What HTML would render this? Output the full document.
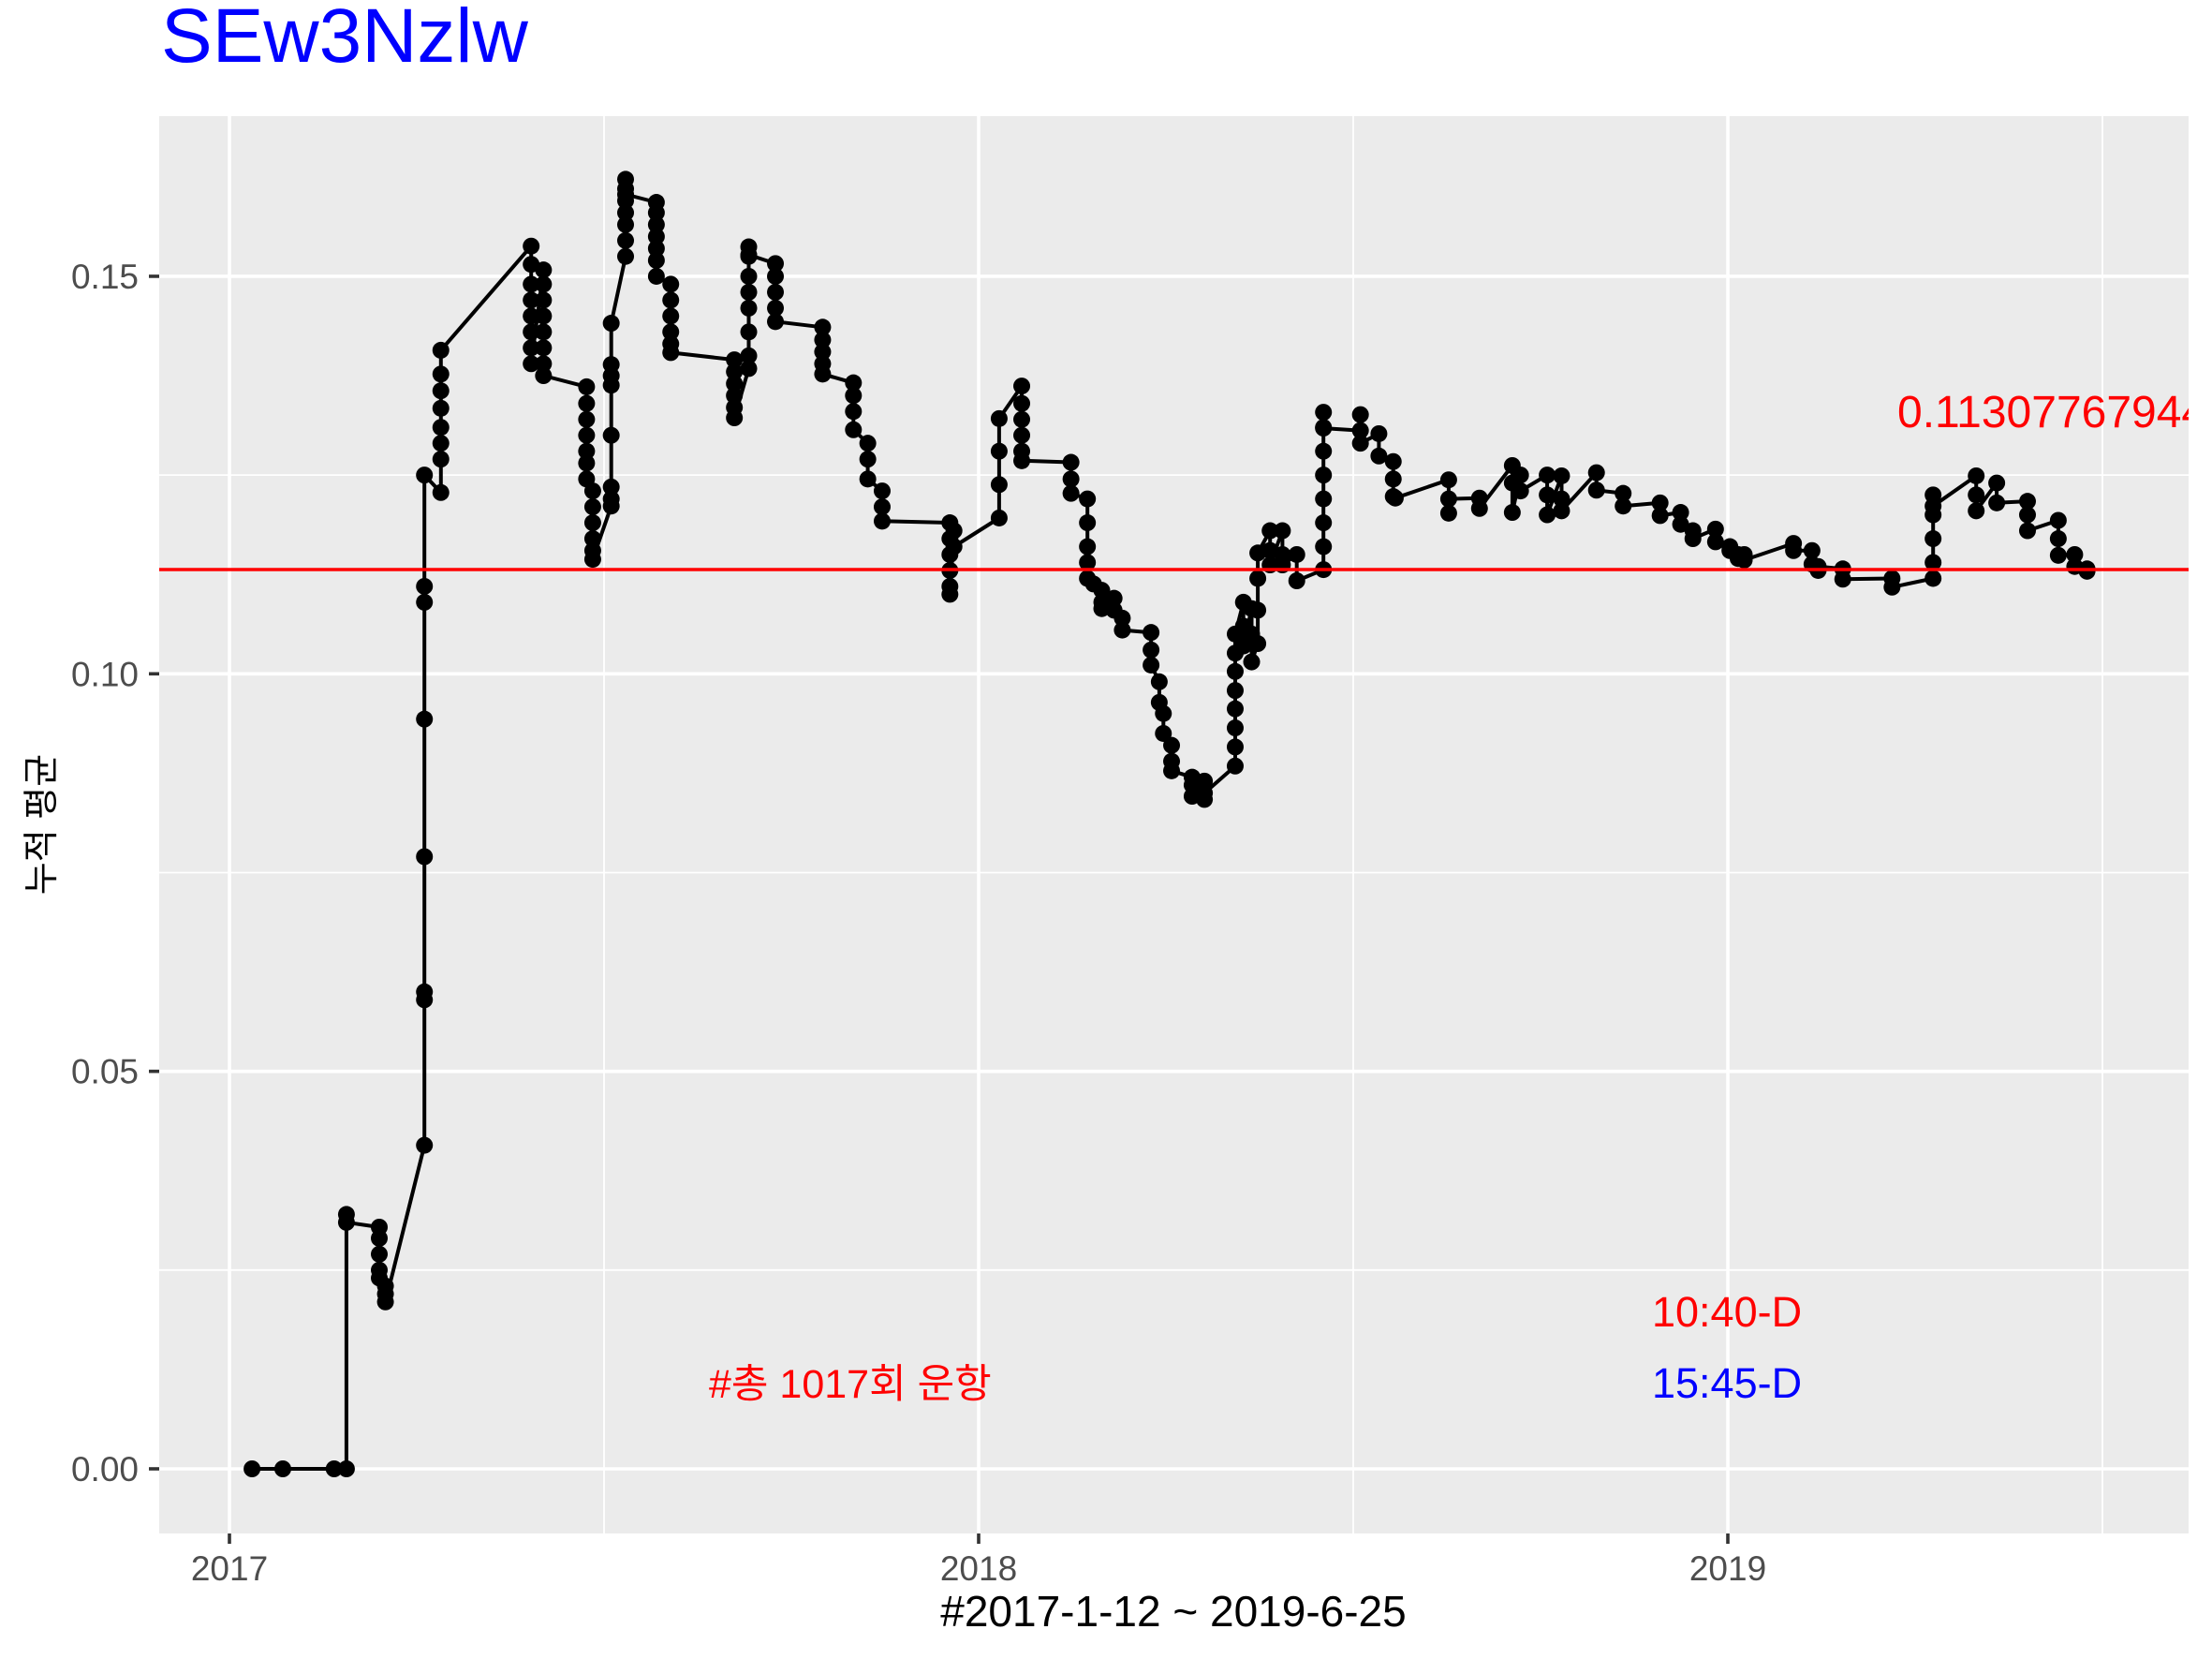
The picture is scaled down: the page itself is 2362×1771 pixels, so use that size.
<!DOCTYPE html>
<html><head><meta charset="utf-8"><style>
html,body{margin:0;padding:0;background:#fff;}
svg{display:block;}
text{font-family:"Liberation Sans","Noto Sans CJK KR",sans-serif;}
</style></head><body>
<svg id="chart" width="2362" height="1771" viewBox="0 0 2362 1771" xmlns="http://www.w3.org/2000/svg">
<text x="172" y="66" font-size="82" fill="#0000ff">SEw3Nzlw</text>
<rect x="170" y="124" width="2167" height="1513" fill="#ebebeb"/>
<g id="grid"></g>
<g id="axes"></g>
<g id="series"></g>
<line x1="170" x2="2337" y1="608" y2="608" stroke="#ff0000" stroke-width="3.5"/>
<svg x="170" y="124" width="2167" height="1513" overflow="hidden">
<text x="1856" y="332" font-size="48" fill="#ff0000">0.11307767944</text>
</svg>
<text x="1764" y="1416" font-size="45" fill="#ff0000">10:40-D</text>
<text x="1764" y="1492" font-size="45" fill="#0000ff">15:45-D</text>
<text x="757" y="1492" font-size="43" fill="#ff0000">#총 1017회 운항</text>
<text x="1253" y="1736" font-size="46" text-anchor="middle" fill="#000">#2017-1-12 ~ 2019-6-25</text>
<text transform="translate(57,880) rotate(-90)" font-size="38" text-anchor="middle" fill="#000">누적 평균</text>
</svg>
<script>
const days = [11,26,51,57,57,57,
73,73,73,73,73,76,76,76,
95,95,95,95,95,95,95,95,
103,103,103,103,103,103,103,103,
147,147,147,147,147,147,147,147,
153,153,153,153,153,153,153,153,
174,174,174,174,174,174,174,
177,177,177,177,177,177,
186,186,186,186,186,186,186,186,
193,193,193,193,193,193,193,193,
208,208,208,208,208,208,208,
215,215,215,215,215,215,
246,246,246,246,246,246,
253,253,253,253,253,253,253,253,253,
266,266,266,266,266,
289,289,289,289,289,
304,304,304,304,
311,311,311,
318,318,318,
351,351,351,351,351,351,
353,353,
375,375,375,375,
386,386,386,386,386,386,
410,410,410,
418,418,418,418,418,
421,425,425,425,431,431,435,435,
449,449,449,453,453,455,455,
459,459,459,469,469,469,475,475,475,
490,490,490,490,490,490,490,490,
494,494,494,498,498,498,
501,501,501,501,507,507,507,513,513,513,520,520,
533,533,533,533,533,533,533,533,533,
551,551,551,560,560,567,567,567,568,
594,594,594,609,609,625,625,625,629,629,
642,642,642,649,649,649,666,666,679,679,
697,697,707,707,713,713,724,724,731,731,735,735,738,738,
762,762,771,771,774,774,786,786,810,810,
830,830,830,830,830,830,
851,851,851,861,861,876,876,876,891,891,891,899,899,905,905];
const values = [0,0,0,0,0.032,0.031,
0.0304,0.029,0.027,0.025,0.024,0.023,0.022,0.021,
0.0407,0.059,0.060,0.077,0.0943,0.109,0.111,0.125,
0.1228,0.127,0.129,0.131,0.1334,0.1356,0.1377,0.1407,
0.1538,0.1515,0.149,0.147,0.145,0.143,0.141,0.139,
0.1508,0.149,0.147,0.145,0.143,0.141,0.139,0.1375,
0.1361,0.134,0.132,0.130,0.128,0.1265,0.1245,
0.123,0.121,0.119,0.117,0.1155,0.1144,
0.1211,0.122,0.1235,0.130,0.1363,0.1375,0.1389,0.1441,
0.1525,0.1545,0.1565,0.158,0.1595,0.161,0.1622,0.1603,
0.1593,0.158,0.1565,0.155,0.1535,0.152,0.150,
0.149,0.147,0.145,0.143,0.1415,0.1404,
0.1395,0.138,0.1365,0.135,0.1335,0.1322,
0.1384,0.140,0.143,0.146,0.148,0.150,0.1525,0.1537,0.1527,
0.1516,0.150,0.148,0.146,0.1443,
0.1436,0.142,0.1405,0.139,0.1377,
0.1366,0.135,0.133,0.1307,
0.129,0.127,0.1245,
0.123,0.121,0.1192,
0.119,0.117,0.115,0.113,0.111,0.110,
0.118,0.116,
0.1196,0.1238,0.128,0.1321,
0.1362,0.134,0.132,0.130,0.128,0.1268,
0.1266,0.1245,0.1227,
0.122,0.119,0.116,0.114,0.112,
0.1113,0.1105,0.109,0.1082,0.1095,0.108,0.107,0.1055,
0.1052,0.103,0.1011,0.099,0.0964,0.095,0.0925,
0.091,0.089,0.0878,0.087,0.086,0.0846,0.0865,0.0842,0.085,
0.0884,0.0908,0.0932,0.0956,0.0979,0.1003,0.1026,0.105,
0.109,0.106,0.1035,0.1082,0.105,0.1015,
0.1038,0.108,0.112,0.1152,0.118,0.1155,0.1137,0.118,0.115,0.1137,0.115,0.1117,
0.1131,0.116,0.119,0.122,0.125,0.128,0.131,0.1329,0.1309,
0.1306,0.1326,0.129,0.1302,0.1274,0.1267,0.1245,0.1223,0.1221,
0.1244,0.1202,0.122,0.1221,0.1208,0.1262,0.124,0.1203,0.125,0.123,
0.125,0.1225,0.120,0.1249,0.122,0.1205,0.1253,0.1231,0.1227,0.1211,
0.1215,0.1199,0.1203,0.1188,0.118,0.117,0.1182,0.1166,0.116,0.1155,0.115,0.1145,0.115,0.1143,
0.1164,0.1155,0.1155,0.1138,0.113,0.1135,0.1132,0.1119,0.112,0.1109,
0.112,0.114,0.117,0.120,0.1225,0.1211,
0.1249,0.1225,0.1205,0.124,0.1215,0.1217,0.120,0.118,0.1193,0.117,0.1149,0.115,0.1135,0.1132,0.1129];
const yTicks = [0, 0.05, 0.10, 0.15];
const yTickLabels = ["0.00","0.05","0.10","0.15"];
const yMinor = [0.025, 0.075, 0.125];
const xTickDays = [0, 365, 730];
const xTickLabels = ["2017","2018","2019"];
const xMinorDays = [182.5, 547.5, 912.5];

const NS = "http://www.w3.org/2000/svg";
const X = d => 245 + d * 800 / 365;
const Y = v => 1568 - v * 8487;
function mk(tag, attrs, parent){const e=document.createElementNS(NS,tag);for(const k in attrs)e.setAttribute(k,attrs[k]);parent.appendChild(e);return e;}
const grid=document.getElementById('grid'), axes=document.getElementById('axes'), series=document.getElementById('series');
yMinor.forEach(v=>{const l=mk('line',{x1:170,x2:2337,y1:Y(v),y2:Y(v),stroke:'#fff','stroke-width':1.8},grid);

});
xMinorDays.forEach(d=>{const l=mk('line',{x1:X(d),x2:X(d),y1:124,y2:1637,stroke:'#fff','stroke-width':1.8},grid);

});
yTicks.forEach((v,i)=>{const l=mk('line',{x1:170,x2:2337,y1:Y(v),y2:Y(v),stroke:'#fff','stroke-width':3.6},grid);


const t=mk('line',{x1:159,x2:170,y1:Y(v),y2:Y(v),stroke:'#333','stroke-width':3.6},axes);


const tx=mk('text',{x:148,y:Y(v)+13,'font-size':37,'text-anchor':'end',fill:'#4d4d4d'},axes);tx.textContent=yTickLabels[i];

});
xTickDays.forEach((d,i)=>{const l=mk('line',{x1:X(d),x2:X(d),y1:124,y2:1637,stroke:'#fff','stroke-width':3.6},grid);


const t=mk('line',{x1:X(d),x2:X(d),y1:1637,y2:1648,stroke:'#333','stroke-width':3.6},axes);


const tx=mk('text',{x:X(d),y:1687,'font-size':37,'text-anchor':'middle',fill:'#4d4d4d'},axes);tx.textContent=xTickLabels[i];

});
const pts=days.map((d,i)=>X(d).toFixed(1)+','+Y(values[i]).toFixed(1)).join(' ');
const pl=mk('polyline',{points:pts,fill:'none',stroke:'#000','stroke-width':4,'stroke-linejoin':'round'},series);


days.forEach((d,i)=>{const c=mk('circle',{cx:X(d),cy:Y(values[i]),r:9,fill:'#000'},series);

});
</script>
</body></html>
